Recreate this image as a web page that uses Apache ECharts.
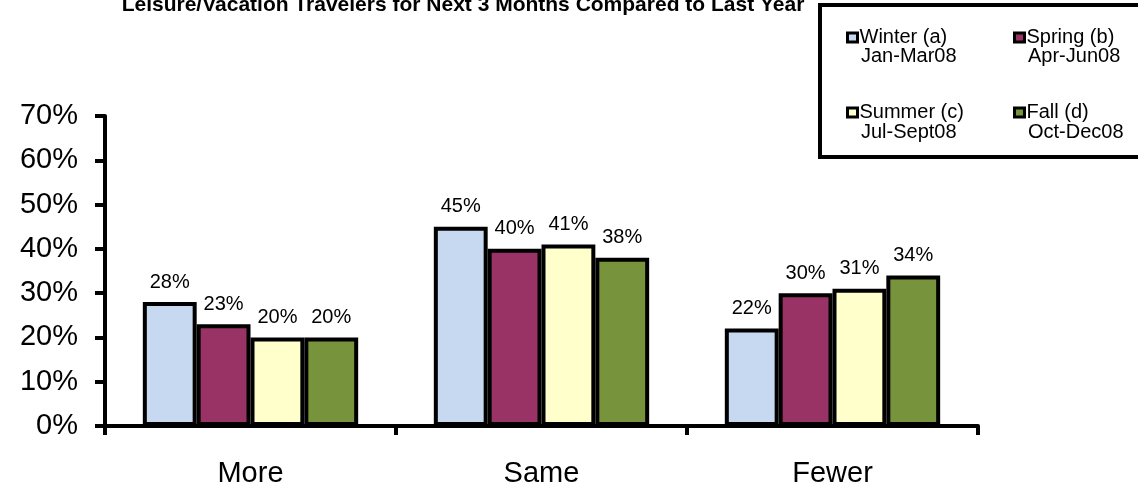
<!DOCTYPE html>
<html>
<head>
<meta charset="utf-8">
<style>
  html, body { margin: 0; padding: 0; background: #fff; }
  #chart { width: 1138px; height: 487px; }
</style>
<script src="https://cdn.jsdelivr.net/npm/echarts@6/dist/echarts.min.js"></script>
</head>
<body>
<div id="chart"></div>
<script>
// Travel outlook by season: share of respondents expecting more / same / fewer trips
const categories = ['More', 'Same', 'Fewer'];
const seasonNames = ['Winter (a)', 'Spring (b)', 'Summer (c)', 'Fall (d)'];
const seasonPeriods = ['Jan-Mar08', 'Apr-Jun08', 'Jul-Sept08', 'Oct-Dec08'];
const winter = [28, 45, 22];
const spring = [23, 40, 30];
const summer = [20, 41, 31];
const fall = [20, 38, 34];
const yTicks = { min: 0, max: 70, interval: 10 };

const seasonColors = ['#C6D9F1', '#993366', '#FFFFCC', '#77933C'];
const seasonValues = [winter, spring, summer, fall];
const FONT = 'Arial, "Liberation Sans", sans-serif';

const chart = echarts.init(document.getElementById('chart'));

const series = seasonNames.map((name, i) => ({
  name: name,
  type: 'bar',
  data: seasonValues[i],
  barGap: '0%',
  barCategoryGap: '26%',
  itemStyle: { color: seasonColors[i], borderColor: '#000', borderWidth: 4 },
  label: {
    show: true,
    position: 'top',
    distance: 10,
    formatter: '{c}%',
    fontFamily: FONT,
    fontSize: 20,
    color: '#000'
  },
  emphasis: { disabled: true }
}));

// legend key: a 2x2 grid, each season's period on a second line under its name
const keyLeft = 846;
const keyColStep = 167;
const keyRowTops = [27.5, 102.5];
const periodLineY = [56.5, 132.5];
const KEY_FONT_SIZE = 20;

const legends = seasonNames.map((name, i) => ({
  data: [name],
  orient: 'horizontal',
  left: keyLeft + (i % 2) * keyColStep,
  top: keyRowTops[Math.floor(i / 2)],
  padding: 0,
  itemWidth: 10,
  itemHeight: 9,
  itemGap: 0,
  selectedMode: false,
  icon: 'rect',
  itemStyle: { borderColor: '#000', borderWidth: 3 },
  textStyle: { fontFamily: FONT, fontSize: KEY_FONT_SIZE, color: '#000', padding: [0, 0, 0, -3] }
}));

const periodTexts = seasonPeriods.map((p, i) => ({
  type: 'text',
  x: keyLeft + 15 + (i % 2) * keyColStep,
  y: periodLineY[Math.floor(i / 2)],
  silent: true,
  style: {
    text: p,
    font: KEY_FONT_SIZE + 'px ' + FONT,
    fill: '#000',
    textAlign: 'left',
    textVerticalAlign: 'middle'
  }
}));

chart.setOption({
  animation: false,
  title: {
    text: 'Leisure/Vacation Travelers for Next 3 Months Compared to Last Year',
    left: 458,
    top: -10,
    textAlign: 'center',
    textStyle: { fontFamily: FONT, fontWeight: 'bold', fontSize: 21, color: '#000' }
  },
  legend: legends,
  graphic: [{
    type: 'rect',
    shape: { x: 820, y: 5, width: 340, height: 152 },
    style: { fill: 'none', stroke: '#000', lineWidth: 4 },
    silent: true
  }].concat(periodTexts),
  grid: { left: 105, right: 160, top: 116, bottom: 61, containLabel: false, outerBoundsMode: 'none' },
  xAxis: {
    type: 'category',
    data: categories,
    axisLine: { lineStyle: { color: '#000', width: 4 } },
    axisTick: { show: true, length: 9, lineStyle: { color: '#000', width: 4 } },
    axisLabel: { fontFamily: FONT, fontSize: 29, color: '#000', margin: 33 }
  },
  yAxis: {
    type: 'value',
    min: yTicks.min,
    max: yTicks.max,
    interval: yTicks.interval,
    axisLine: { show: true, lineStyle: { color: '#000', width: 4 } },
    axisTick: { show: true, length: 10, lineStyle: { color: '#000', width: 4 } },
    axisLabel: { formatter: '{value}%', fontFamily: FONT, fontSize: 29, color: '#000', margin: 27 },
    splitLine: { show: false }
  },
  series: series
});
</script>
</body>
</html>
